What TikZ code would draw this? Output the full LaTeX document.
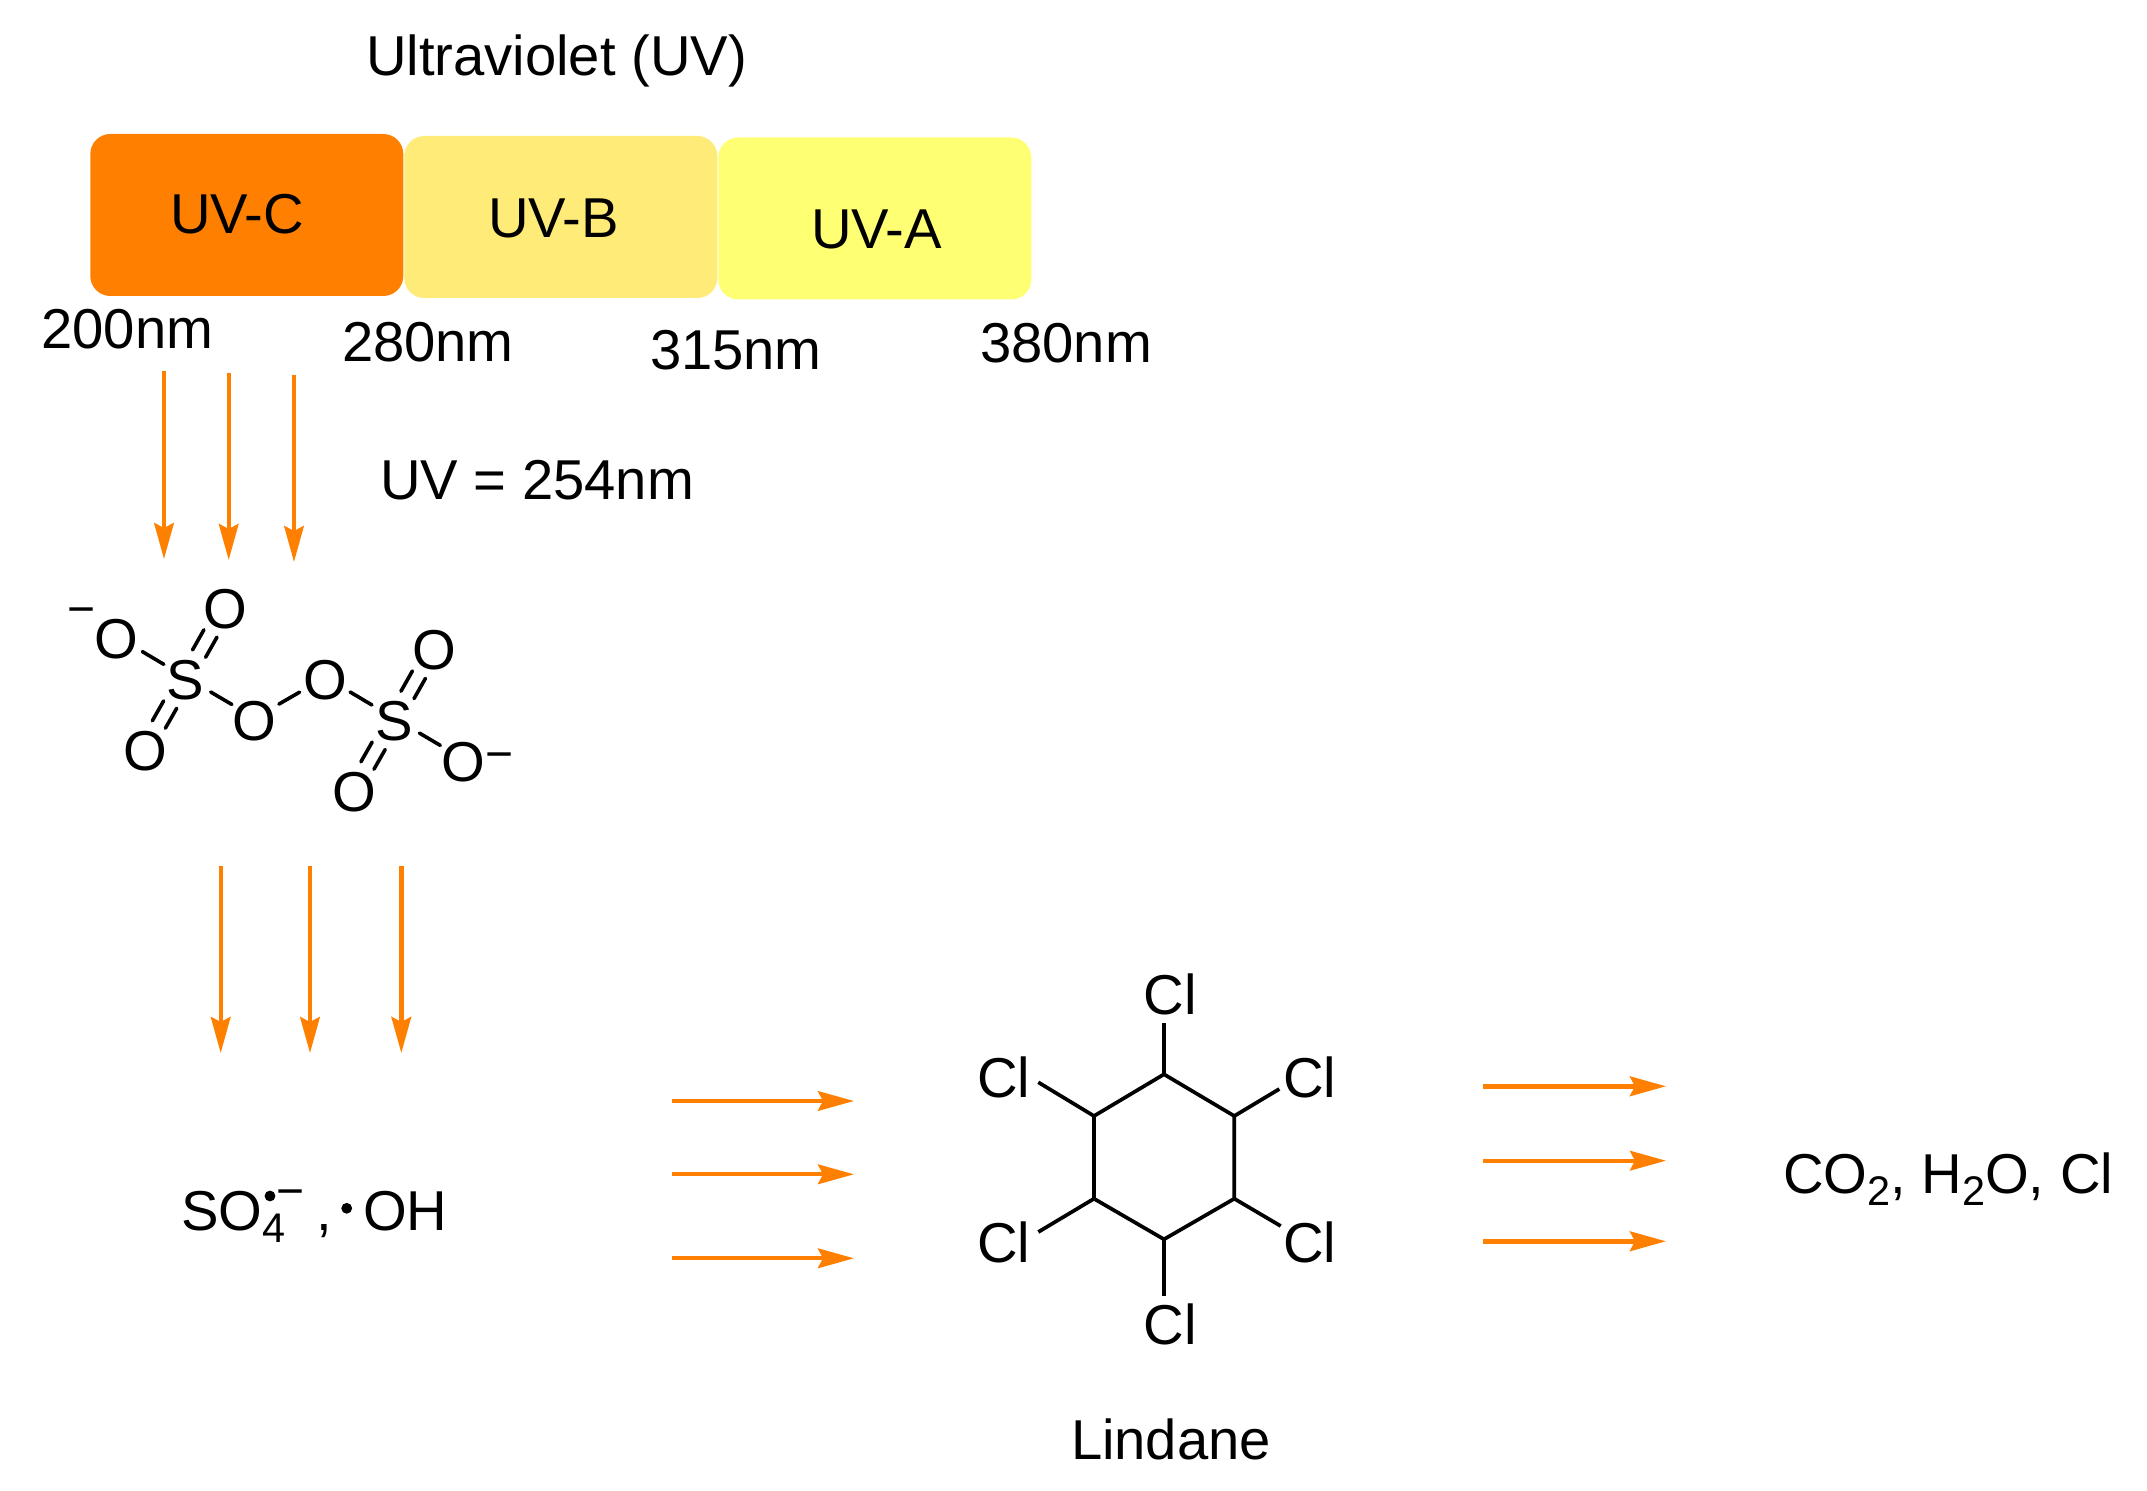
\documentclass[tikz,border=0pt]{standalone}
\usepackage{fontspec}
\setmainfont{Liberation Sans}
\usetikzlibrary{arrows.meta,calc}
\definecolor{uvorange}{HTML}{FF8000}
\definecolor{uvbcol}{HTML}{FFEB78}
\definecolor{uvacol}{HTML}{FFFF73}
\newcommand{\chemsub}[1]{\raisebox{-6pt}{\fontsize{20.7}{20.7}\selectfont #1}}
\newcommand{\sgl}[4]{\draw[bond,shorten <=#3pt,shorten >=#4pt] (#1.center) -- (#2.center);}
\newcommand{\dbl}[4]{%
 \draw[bond,shorten <=#3pt,shorten >=#4pt] ($(#1.center)!3.75pt!90:(#2.center)$) -- ($(#2.center)!3.75pt!-90:(#1.center)$);
 \draw[bond,shorten <=#3pt,shorten >=#4pt] ($(#1.center)!3.75pt!-90:(#2.center)$) -- ($(#2.center)!3.75pt!90:(#1.center)$);}
\tikzset{
 lab/.style={font=\fontsize{28.1}{30}\selectfont,inner sep=0pt,outer sep=0pt,anchor=base west,text=black},
 atom/.style={font=\fontsize{28.1}{30}\selectfont,inner sep=0pt,outer sep=0pt,text height=22.7pt,text depth=0pt,anchor=center},
 clatom/.style={atom,anchor=base},
 charge/.style={font=\fontsize{24}{24}\selectfont,inner sep=0pt,outer sep=0pt,anchor=center},
 radical/.style={circle,fill=black,inner sep=0pt,minimum size=5.4pt},
 band/.style={rectangle,rounded corners=10pt,draw=none,minimum width=156.5pt,minimum height=81pt,inner sep=0pt},
 bond/.style={draw=black,line width=1.8pt,line cap=round},
 ringbond/.style={draw=black,line width=1.85pt,line join=miter,line cap=butt},
 flow/.style={draw=uvorange,line width=2.05pt,-{Stealth[length=18pt,width=9.8pt,inset=2.5pt,fill=uvorange]}},
}
\begin{document}
\begin{tikzpicture}[x=0.5pt,y=-0.5pt]
\useasboundingbox (0,0) rectangle (2147,1491);
% bands
\node[band,fill=uvorange] (uvc) at (246.8,215) {};
\node[band,fill=uvbcol] (uvb) at (560.8,217) {};
\node[band,fill=uvacol] (uva) at (874.8,218.5) {};
% labels
\node[lab] (title) at (366,76) {Ultraviolet (UV)};
\node[lab] (luvc) at (170,234) {UV-C};
\node[lab] (luvb) at (488,237.5) {UV-B};
\node[lab] (luva) at (811,249) {UV-A};
\node[lab] (n200) at (41.5,348.5) {200nm};
\node[lab] (n280) at (342,361.5) {280nm};
\node[lab] (n315) at (650,370) {315nm};
\node[lab] (n380) at (980,362.5) {380nm};
\node[lab] (uv254) at (380,500) {UV = 254nm};
% UV arrows
\coordinate (a1s) at (164,371); \coordinate (a1e) at (164,559);
\coordinate (a2s) at (228.7,373); \coordinate (a2e) at (228.7,560);
\coordinate (a3s) at (294,375); \coordinate (a3e) at (294,562);
\draw[flow] (a1s) -- (a1e);
\draw[flow] (a2s) -- (a2e);
\draw[flow] (a3s) -- (a3e);
% persulfate
\node[atom] (S1) at (185.7,677.3) {S};
\node[atom] (O1) at (116.5,636.3) {O};
\node[atom] (O2) at (225.8,606.3) {O};
\node[atom] (O3) at (145.5,748) {O};
\node[atom] (O4) at (254.8,718) {O};
\node[atom] (O5) at (325.4,677.3) {O};
\node[atom] (S2) at (394.3,718.3) {S};
\node[atom] (O6) at (434.4,647.3) {O};
\node[atom] (O7) at (354.1,789) {O};
\node[atom] (O8) at (463.4,759) {O};
\node[charge] (m1) at (81.9,616.3) {−};
\node[charge] (m2) at (499.5,761.3) {−};
\sgl{S1}{O1}{12.7}{15}
\dbl{S1}{O2}{13.6}{15.6}
\dbl{S1}{O3}{15.7}{13.5}
\sgl{S1}{O4}{14.5}{13.3}
\sgl{O4}{O5}{13.9}{14.9}
\sgl{O5}{S2}{14.4}{13}
\dbl{S2}{O6}{13.4}{15.7}
\dbl{S2}{O7}{15.8}{13.5}
\sgl{S2}{O8}{14.6}{13.4}
% second arrows
\coordinate (b1s) at (220.7,866); \coordinate (b1e) at (220.7,1053);
\coordinate (b2s) at (310,866); \coordinate (b2e) at (310,1053);
\coordinate (b3s) at (401.3,866); \coordinate (b3e) at (401.3,1053);
\draw[flow] (b1s) -- (b1e);
\draw[flow] (b2s) -- (b2e);
\draw[flow,line width=2.35pt] (b3s) -- (b3e);
% radicals
\node[lab] (so4) at (181,1230) {SO\chemsub{4}};
\node[radical] (d1) at (270,1196) {};
\node[charge] (m3) at (291,1198.3) {−};
\node[lab] (comma) at (316,1230) {,};
\node[radical] (d2) at (346.7,1208.3) {};
\node[lab] (oh) at (363,1230) {OH};
% middle arrows
\coordinate (c1s) at (672,1101); \coordinate (c1e) at (854,1101);
\coordinate (c2s) at (672,1174.3); \coordinate (c2e) at (854,1174.3);
\coordinate (c3s) at (672,1258.3); \coordinate (c3e) at (854,1258.3);
\draw[flow] (c1s) -- (c1e);
\draw[flow] (c2s) -- (c2e);
\draw[flow] (c3s) -- (c3e);
% lindane
\coordinate (r1) at (1164,1074.3);
\coordinate (r2) at (1234.3,1116);
\coordinate (r3) at (1234.3,1198.7);
\coordinate (r4) at (1164,1239.3);
\coordinate (r5) at (1094,1198.7);
\coordinate (r6) at (1094,1116);
\draw[ringbond] (r1) -- (r2) -- (r3) -- (r4) -- (r5) -- (r6) -- cycle;
\node[clatom] (cl1) at (1170,1014.3) {Cl};
\node[clatom] (cl2) at (1003.7,1097.3) {Cl};
\node[clatom] (cl3) at (1309.7,1097.3) {Cl};
\node[clatom] (cl4) at (1003.7,1262.3) {Cl};
\node[clatom] (cl5) at (1309.7,1262.3) {Cl};
\node[clatom] (cl6) at (1170,1344) {Cl};
\draw[ringbond] (r1) -- ($(cl1.center)+(-6,31.1)$);
\draw[ringbond] (r6) -- ($(cl2.center)+(34.6,7.7)$);
\draw[ringbond] (r2) -- ($(cl3.center)+(-30.4,14.4)$);
\draw[ringbond] (r5) -- ($(cl4.center)+(34.6,-7.6)$);
\draw[ringbond] (r3) -- ($(cl5.center)+(-29,-13.6)$);
\draw[ringbond] (r4) -- ($(cl6.center)+(-6,-25.6)$);
\node[lab] (lind) at (1071,1459) {Lindane};
% right arrows
\coordinate (e1s) at (1483,1086.3); \coordinate (e1e) at (1666,1086.3);
\coordinate (e2s) at (1483,1160.7); \coordinate (e2e) at (1666,1160.7);
\coordinate (e3s) at (1483,1241.3); \coordinate (e3e) at (1666,1241.3);
\draw[flow,line width=2.35pt] (e1s) -- (e1e);
\draw[flow,line width=2pt] (e2s) -- (e2e);
\draw[flow,line width=2.35pt] (e3s) -- (e3e);
\node[lab] (prod) at (1783,1193.3) {CO\chemsub{2}, H\chemsub{2}O, Cl};
\end{tikzpicture}
\end{document}
